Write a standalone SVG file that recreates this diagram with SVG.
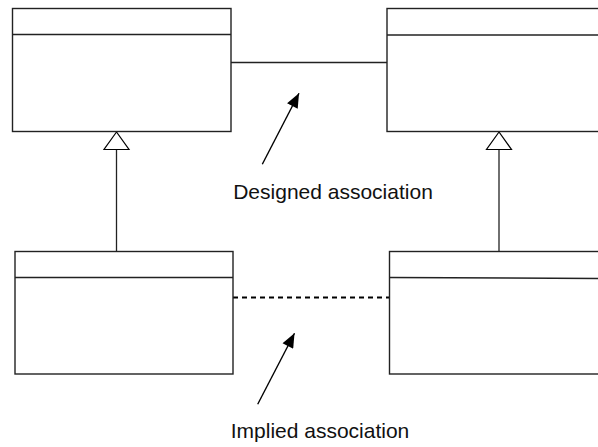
<svg xmlns="http://www.w3.org/2000/svg" width="598" height="447" viewBox="0 0 598 447">
  <defs>
    <style>
      .box { fill: #ffffff; stroke: #222222; stroke-width: 1.4; }
      .div { stroke: #222222; stroke-width: 1.4; }
      .edge { fill: none; stroke: #222222; stroke-width: 1.3; }
      .dash { fill: none; stroke: #000000; stroke-width: 2; stroke-dasharray: 5 4; }
      .gen { fill: #ffffff; stroke: #000000; stroke-width: 1.2; }
      .note { fill: none; stroke: #000000; stroke-width: 1.4; }
      .label { font-family: "Liberation Sans", Arial, sans-serif; font-size: 21px; fill: #111111; text-anchor: middle; }
    </style>
    <marker id="filled" viewBox="0 0 10 10" refX="10" refY="5" markerWidth="10" markerHeight="10" markerUnits="userSpaceOnUse" orient="auto">
      <path d="M0,0 L10,5 L0,10 z" fill="#000000"/>
    </marker>
    <marker id="filledLg" viewBox="0 0 12 10" refX="12" refY="5" markerWidth="15" markerHeight="12" markerUnits="userSpaceOnUse" orient="auto">
      <path d="M0,0 L12,5 L0,10 z" fill="#000000"/>
    </marker>
  </defs>

  <!-- connectors -->
  <g id="connectors">
    <line class="edge" x1="231" y1="62.5" x2="387" y2="62.5"/>
    <line class="dash" x1="233" y1="297.5" x2="389.5" y2="297.5"/>
    <!-- generalization: left -->
    <line class="edge" x1="116.5" y1="251.5" x2="116.5" y2="149.5"/>
    <polygon class="gen" points="116.5,132 104,149.5 129,149.5"/>
    <!-- generalization: right -->
    <line class="edge" x1="499" y1="251.5" x2="499" y2="149.5"/>
    <polygon class="gen" points="499,132 486.5,149.5 511.5,149.5"/>
    <!-- annotation pointers -->
    <line class="note" x1="262.3" y1="164.3" x2="299" y2="93.3" marker-end="url(#filledLg)"/>
    <line class="note" x1="257.7" y1="404.3" x2="294.5" y2="333.3" marker-end="url(#filledLg)"/>
  </g>

  <!-- classes -->
  <g id="class-top-left">
    <rect class="box" x="12.5" y="8.5" width="218.5" height="123"/>
    <line class="div" x1="12.5" y1="34.5" x2="231" y2="34.5"/>
  </g>
  <g id="class-top-right">
    <rect class="box" x="387" y="8.5" width="220" height="123"/>
    <line class="div" x1="387" y1="35" x2="607" y2="35"/>
  </g>
  <g id="class-bottom-left">
    <rect class="box" x="15" y="251.5" width="218" height="122.5"/>
    <line class="div" x1="15" y1="277.5" x2="233" y2="277.5"/>
  </g>
  <g id="class-bottom-right">
    <rect class="box" x="389.5" y="251.5" width="220" height="122.5"/>
    <line class="div" x1="389.5" y1="277.5" x2="609.5" y2="278.5"/>
  </g>

  <!-- labels -->
  <g id="labels">
    <text class="label" x="333" y="199">Designed association</text>
    <text class="label" x="320" y="438">Implied association</text>
  </g>
</svg>
